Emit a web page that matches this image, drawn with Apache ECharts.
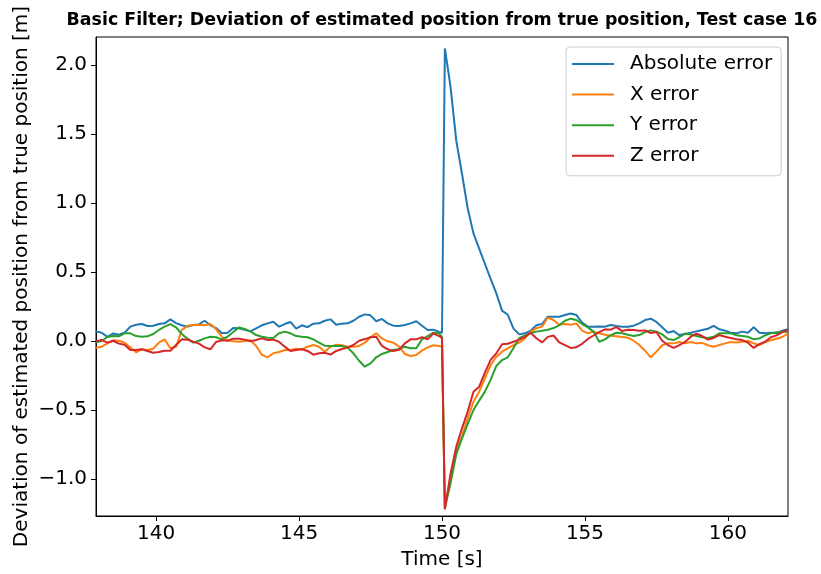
<!DOCTYPE html>
<html><head><meta charset="utf-8">
<script src="https://cdn.jsdelivr.net/npm/echarts@6/dist/echarts.min.js"></script>
<style>html,body{margin:0;padding:0;background:#fff}#c{width:821px;height:574px}</style>
</head><body><div id="c"></div>
<script>
const times = [137.9,138.1,138.3,138.5,138.7,138.9,139.1,139.3,139.5,139.7,
139.9,140.1,140.3,140.5,140.7,140.9,141.1,141.3,141.5,141.7,
141.9,142.1,142.3,142.5,142.7,142.9,143.1,143.3,143.5,143.7,
143.9,144.1,144.3,144.5,144.7,144.9,145.1,145.3,145.5,145.7,
145.9,146.1,146.3,146.5,146.7,146.9,147.1,147.3,147.5,147.7,
147.9,148.1,148.3,148.5,148.7,148.9,149.1,149.3,149.5,149.7,
149.9,150.0,
150.1,150.3,150.5,150.7,150.9,151.1,151.3,151.5,151.7,151.9,
152.1,152.3,152.5,152.7,152.9,153.1,153.3,153.5,153.7,153.9,
154.1,154.3,154.5,154.7,154.9,155.1,155.3,155.5,155.7,155.9,
156.1,156.3,156.5,156.7,156.9,157.1,157.3,157.5,157.7,157.9,
158.1,158.3,158.5,158.7,158.9,159.1,159.3,159.5,159.7,159.9,
160.1,160.3,160.5,160.7,160.9,161.1,161.3,161.5,161.7,161.9,162.1];

const absError = [0.07,0.06,0.03,0.055,0.046,0.06,0.104,0.118,0.123,0.109,
0.111,0.123,0.128,0.157,0.13,0.114,0.104,0.116,0.12,0.147,
0.114,0.094,0.056,0.06,0.094,0.092,0.082,0.07,0.092,0.114,
0.128,0.14,0.104,0.123,0.138,0.09,0.114,0.1,0.126,0.128,
0.147,0.157,0.118,0.126,0.128,0.147,0.176,0.193,0.186,0.143,
0.16,0.128,0.111,0.109,0.116,0.128,0.143,0.111,0.08,0.082,0.065,
0.06,
2.12,1.84,1.45,1.21,0.96,0.78,0.67,0.56,0.45,0.345,
0.22,0.19,0.09,0.048,0.056,0.075,0.114,0.123,0.176,0.176,
0.176,0.188,0.2,0.188,0.133,0.104,0.104,0.106,0.104,0.116,
0.109,0.104,0.104,0.111,0.128,0.152,0.162,0.138,0.099,0.06,
0.072,0.043,0.051,0.06,0.07,0.08,0.089,0.109,0.085,0.075,
0.06,0.056,0.068,0.06,0.099,0.06,0.056,0.06,0.056,0.075,0.085];

const xError = [-0.048,-0.041,-0.017,0.005,0.002,-0.012,-0.046,-0.082,-0.06,-0.065,
-0.056,-0.012,0.012,-0.053,-0.041,0.08,0.111,0.116,0.118,0.114,
0.123,0.085,0.031,0.005,-0.002,-0.005,0.0,0.005,-0.036,-0.1,
-0.118,-0.089,-0.08,-0.065,-0.065,-0.056,-0.06,-0.041,-0.029,-0.041,
-0.077,-0.041,-0.027,-0.031,-0.041,-0.041,-0.036,-0.012,0.027,0.056,
0.019,-0.002,-0.012,-0.041,-0.094,-0.109,-0.101,-0.07,-0.046,-0.031,-0.036,
-0.04,
-1.20,-1.0,-0.80,-0.69,-0.56,-0.44,-0.367,-0.27,-0.174,-0.114,
-0.077,-0.053,-0.029,-0.012,0.019,0.068,0.092,0.104,0.17,0.152,
0.118,0.123,0.118,0.128,0.075,0.056,0.068,0.056,0.046,0.039,
0.034,0.029,0.024,0.002,-0.029,-0.07,-0.118,-0.077,-0.031,-0.017,
-0.017,-0.007,-0.017,-0.007,-0.017,-0.014,-0.031,-0.041,-0.029,-0.017,
-0.007,-0.01,-0.005,0.002,-0.017,-0.029,-0.007,0.005,0.017,0.029,0.056];

const yError = [-0.012,0.002,0.029,0.036,0.034,0.056,0.056,0.036,0.031,0.034,
0.051,0.08,0.104,0.123,0.099,0.051,0.017,-0.012,0.002,0.019,
0.031,0.027,0.012,0.031,0.065,0.099,0.087,0.07,0.043,0.031,
0.024,0.022,0.056,0.068,0.056,0.036,0.031,0.027,0.012,-0.012,
-0.034,-0.036,-0.036,-0.036,-0.048,-0.089,-0.143,-0.186,-0.162,-0.118,
-0.094,-0.08,-0.065,-0.058,-0.041,-0.053,-0.053,0.012,0.036,0.06,0.056,
0.03,
-1.21,-1.03,-0.82,-0.705,-0.60,-0.50,-0.432,-0.367,-0.282,-0.181,
-0.138,-0.118,-0.05,0.02,0.04,0.058,0.068,0.075,0.082,0.094,
0.114,0.147,0.162,0.152,0.123,0.099,0.068,-0.005,0.012,0.043,
0.06,0.056,0.046,0.036,0.043,0.065,0.077,0.068,0.048,0.014,
0.007,0.029,0.053,0.048,0.036,0.027,0.022,0.031,0.056,0.056,
0.056,0.041,0.036,0.031,0.012,0.019,0.041,0.056,0.063,0.068,0.068];

const zError = [-0.002,0.007,-0.012,0.002,-0.019,-0.027,-0.065,-0.065,-0.06,-0.072,
-0.085,-0.08,-0.07,-0.07,-0.029,0.012,0.01,-0.005,-0.019,-0.046,
-0.06,-0.007,0.005,0.002,0.017,0.017,0.01,-0.002,0.007,0.019,
0.007,0.01,-0.005,-0.041,-0.072,-0.065,-0.06,-0.072,-0.099,-0.089,
-0.085,-0.099,-0.072,-0.058,-0.048,-0.029,0.002,0.014,0.027,0.031,
-0.036,-0.06,-0.072,-0.063,-0.017,0.012,0.012,0.027,0.012,0.056,0.036,
0.02,
-1.22,-0.96,-0.765,-0.633,-0.51,-0.367,-0.331,-0.229,-0.137,-0.089,
-0.024,-0.02,-0.005,0.01,0.03,0.06,0.02,-0.01,0.03,0.04,
-0.01,-0.03,-0.05,-0.045,-0.02,0.015,0.04,0.065,0.085,0.082,
0.101,0.072,0.082,0.08,0.075,0.077,0.058,0.065,0.002,-0.029,
-0.05,-0.029,-0.007,0.031,0.053,0.036,0.01,0.022,0.043,0.031,
0.022,0.012,0.007,-0.012,-0.05,-0.022,-0.005,0.027,0.041,0.065,0.08];

const seriesNames = ['Absolute error','X error','Y error','Z error'];
const seriesColors = ['#1f77b4','#ff7f0e','#2ca02c','#d62728'];
const xTicks = [140,145,150,155,160];
const yTicks = [-1.0,-0.5,0.0,0.5,1.0,1.5,2.0];
const titleText = 'Basic Filter; Deviation of estimated position from true position, Test case 16';
const xLabel = 'Time [s]';
const yLabel = 'Deviation of estimated position from true position [m]';

const FONT = 'DejaVu Sans';
const allValues = [absError, xError, yError, zError];
const chart = echarts.init(document.getElementById('c'), null, {renderer:'canvas'});
chart.setOption({
  animation:false,
  backgroundColor:'#fff',
  textStyle:{fontFamily:FONT},
  graphic:[{type:'text', x:442, y:20, style:{text:titleText, fill:'#000', font:'bold 17.4px "DejaVu Sans"', textAlign:'center', textVerticalAlign:'middle'}}],
  grid:{left:96, right:33, top:37, bottom:58, show:true, borderColor:'#000', borderWidth:1, backgroundColor:'transparent',
    containLabel:false, outerBoundsMode:'none'},
  legend:{
    data:seriesNames, orient:'vertical', left:566, top:47, icon:'rect', itemWidth:42, itemHeight:2, itemGap:10.6,
    padding:[7,9,10,6], backgroundColor:'rgba(255,255,255,0.8)', borderColor:'#cccccc', borderWidth:1, borderRadius:4,
    textStyle:{fontFamily:FONT, fontSize:20, color:'#000', lineHeight:20, padding:[0,0,0,11]}
  },
  xAxis:{type:'value', min:137.9, max:162.1, name:xLabel, nameLocation:'middle', nameGap:34, nameMoveOverlap:false,
    nameTextStyle:{fontFamily:FONT, fontSize:20, color:'#000'},
    axisLine:{show:true, onZero:false, lineStyle:{color:'#000', width:1}},
    axisTick:{show:true, length:5, customValues:xTicks, lineStyle:{color:'#000', width:1}},
    axisLabel:{customValues:xTicks, fontFamily:FONT, fontSize:20, color:'#000', margin:8},
    splitLine:{show:false}},
  yAxis:{type:'value', min:-1.268, max:2.203, name:yLabel, nameLocation:'middle', nameGap:64, nameMoveOverlap:false,
    nameTextStyle:{fontFamily:FONT, fontSize:20, color:'#000'},
    axisLine:{show:true, onZero:false, lineStyle:{color:'#000', width:1}},
    axisTick:{show:true, length:5, customValues:yTicks, lineStyle:{color:'#000', width:1}},
    axisLabel:{customValues:yTicks, fontFamily:FONT, fontSize:20, color:'#000', margin:9,
      formatter:v=>v.toFixed(1).replace('-','\u2212')},
    splitLine:{show:false}},
  series: seriesNames.map((n,i)=>({
    name:n, type:'line', showSymbol:false, symbol:'none', clip:true,
    data: times.map((t,j)=>[t, allValues[i][j]]),
    lineStyle:{color:seriesColors[i], width:2}, itemStyle:{color:seriesColors[i]}, z:2+i
  }))
});
</script></body></html>
